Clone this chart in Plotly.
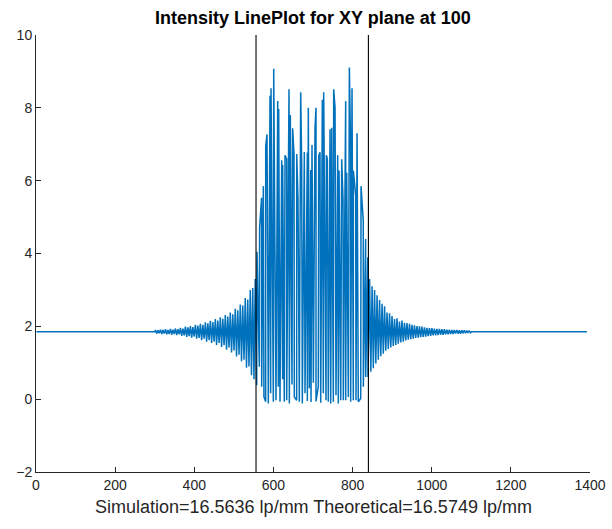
import numpy as np
import plotly.graph_objects as go

# ---------------- data ----------------
baseline_level = 1.85
left_flat_x = [1, 300]
left_flat_y = [1.85, 1.85]
right_flat_x = [1101, 1392]
right_flat_y = [1.85, 1.85]

# left side-lobe samples (alternating high / low), sample spacing 3.15
left_lobe_start, lobe_step = 302.0, 3.15
left_lobe_y = [
    1.90, 1.80, 1.89, 1.81, 1.91, 1.79, 1.90, 1.80, 1.92, 1.78, 1.90, 1.79, 1.93, 1.77, 1.91, 1.79, 1.94, 1.76, 1.92, 1.78,
    1.96, 1.74, 1.94, 1.75, 1.99, 1.71, 1.97, 1.73, 2.01, 1.69, 1.98, 1.72, 2.04, 1.66, 2.02, 1.68, 2.07, 1.62, 2.04, 1.66,
    2.11, 1.58, 2.08, 1.62, 2.15, 1.54, 2.12, 1.58, 2.20, 1.49, 2.16, 1.54, 2.25, 1.43, 2.21, 1.48, 2.31, 1.36, 2.27, 1.42,
    2.38, 1.28, 2.33, 1.34, 2.48, 1.17, 2.44, 1.22, 2.60, 1.04, 2.57, 1.08, 2.78, 0.86, 2.74, 0.90, 3.00, 0.66, 3.05, 0.55,
    3.30]

# central region: peaks and troughs
center_peak_x = [558.5, 565, 570, 574.5, 580.5, 583.8, 591.4, 593.9, 600.7, 610.8,
                 613.3, 620.9, 623.4, 629.3, 633.5, 639.4, 642.7, 648.6, 652, 658.8,
                 662.1, 668.9, 671.4, 678.1, 685.7, 688.2, 694.2, 697.5, 705.1, 707.6,
                 714.4, 717.7, 723.6, 727, 733.8, 736.3, 743, 747.3, 752.3, 755.7,
                 762.4, 765.8, 772.5, 775.9, 782.6, 785.2, 791.9, 795.2, 798.6, 802,
                 807.9, 811.3, 821.4, 827, 833, 838.5]
center_peak_y = [4.05, 4.7, 5.53, 5.85, 6.95, 7.27, 8.33, 8.54, 9.07, 8.19,
                 7.97, 6.56, 6.43, 6.70, 6.59, 8.51, 7.80, 7.44, 6.73, 6.73,
                 5.49, 8.43, 6.46, 6.79, 6.77, 8.00, 6.29, 6.98, 7.44, 8.00,
                 6.68, 6.78, 8.22, 8.43, 6.70, 6.59, 7.41, 7.45, 8.51, 8.01,
                 6.70, 6.28, 6.59, 5.49, 8.19, 6.22, 9.11, 6.75, 8.54, 6.28,
                 5.60, 7.30, 5.85, 4.9, 4.4, 3.9]
center_trough_x = [557.7, 564.4, 570.3, 576, 580.4, 587.1, 593, 599.8, 606.5, 612.4,
                   616.6, 623.3, 627.5, 633.5, 640.2, 646.9, 652.8, 658.7, 665.4, 673,
                   679.8, 685.7, 690.8, 695, 700.9, 707.6, 713.4, 719.5, 726.1, 732.9,
                   738.7, 744.8, 751.4, 758.1, 764, 770.1, 776.6, 782.6, 789.3, 795.2,
                   801.9, 808.7, 814.5, 820.6, 827.2, 833.2, 839]
center_trough_y = [0.38, 0.89, 0.34, 0.06, -0.07, -0.12, 0.16, -0.07, -0.03, 0.34,
                   -0.07, 0.55, -0.07, -0.03, -0.12, 0.40, 0.06, -0.03, -0.07, -0.12,
                   0.16, -0.05, 0.30, -0.08, 0.45, -0.06, 0.35, -0.10, 0.16, -0.03,
                   -0.07, -0.12, -0.07, 0.11, -0.12, -0.03, -0.03, -0.03, 0.06, -0.07,
                   -0.03, -0.03, -0.07, 0.02, 0.34, 0.61, 0.61]

# right side-lobe samples
right_lobe_start = 843.0
right_lobe_y = [
    3.30, 0.75, 3.10, 0.85, 3.00, 0.98, 2.85, 1.08, 2.72, 1.18, 2.62, 1.25, 2.55, 1.33, 2.38, 1.38, 2.36, 1.42, 2.28, 1.46,
    2.20, 1.49, 2.22, 1.52, 2.13, 1.56, 2.16, 1.58, 2.10, 1.61, 2.09, 1.63, 2.07, 1.65, 2.04, 1.66, 2.03, 1.68, 2.01, 1.69,
    2.00, 1.70, 1.99, 1.71, 1.97, 1.72, 1.96, 1.73, 1.95, 1.74, 1.95, 1.75, 1.94, 1.75, 1.93, 1.76, 1.93, 1.77, 1.92, 1.77,
    1.92, 1.78, 1.91, 1.78, 1.91, 1.79, 1.90, 1.79, 1.90, 1.80, 1.90, 1.80, 1.89, 1.80, 1.89, 1.81, 1.89, 1.81, 1.88, 1.82,
    1.88, 1.82]

edge_lines_x = [556, 840]
x_ticks = [0, 200, 400, 600, 800, 1000, 1200, 1400]
y_ticks = [-2, 0, 2, 4, 6, 8, 10]
x_range = [0, 1400]
y_range = [-2, 10]

title_text = "Intensity LinePlot for XY plane at 100"
xlabel_text = "Simulation=16.5636 lp/mm Theoretical=16.5749 lp/mm"

# ---------------- assemble series ----------------
left_lobe_x = left_lobe_start + lobe_step * np.arange(len(left_lobe_y))
right_lobe_x = right_lobe_start + lobe_step * np.arange(len(right_lobe_y))

cx = np.array(center_peak_x + center_trough_x, dtype=float)
cy = np.array(center_peak_y + center_trough_y, dtype=float)
order = np.argsort(cx, kind="stable")
cx, cy = cx[order], cy[order]

x_all = np.concatenate([left_flat_x, left_lobe_x, cx, right_lobe_x, right_flat_x])
y_all = np.concatenate([left_flat_y, left_lobe_y, cy, right_lobe_y, right_flat_y])

BLUE = "#0072BD"
AX = "#262626"
FONT = "Liberation Sans, Arial, Helvetica, sans-serif"

fig = go.Figure()
fig.add_trace(go.Scatter(x=x_all, y=y_all, mode="lines",
                         line=dict(color=BLUE, width=1.5), hoverinfo="skip"))
for xv in edge_lines_x:
    fig.add_trace(go.Scatter(x=[xv, xv], y=y_range, mode="lines",
                             line=dict(color="#000000", width=1.1), hoverinfo="skip"))

fig.update_layout(
    width=612, height=529,
    margin=dict(l=36, r=22, t=35, b=57, pad=0, autoexpand=False),
    paper_bgcolor="white", plot_bgcolor="white",
    showlegend=False,
    font=dict(family=FONT, color=AX, size=14),
)
fig.update_xaxes(range=x_range, tickvals=x_ticks, ticks="inside", ticklen=5, tickcolor=AX,
                 showline=True, linecolor=AX, linewidth=1, mirror=False, automargin=False,
                 showgrid=False, zeroline=False, tickfont=dict(size=14, color=AX))
fig.update_yaxes(range=y_range, tickvals=y_ticks, ticks="inside", ticklen=5, tickcolor=AX,
                 showline=True, linecolor=AX, linewidth=1, mirror=False, automargin=False,
                 showgrid=False, zeroline=False, tickfont=dict(size=14, color=AX))

fig.add_annotation(text="<b>" + title_text + "</b>", x=0.5, y=1, xref="paper", yref="paper",
                   xanchor="center", yanchor="middle", yshift=17, showarrow=False,
                   font=dict(size=18, color="#000000", family=FONT))
fig.add_annotation(text=xlabel_text, x=0.5, y=0, xref="paper", yref="paper",
                   xanchor="center", yanchor="middle", yshift=-35, showarrow=False,
                   font=dict(size=18, color=AX, family=FONT))

fig.write_html("out.html")
